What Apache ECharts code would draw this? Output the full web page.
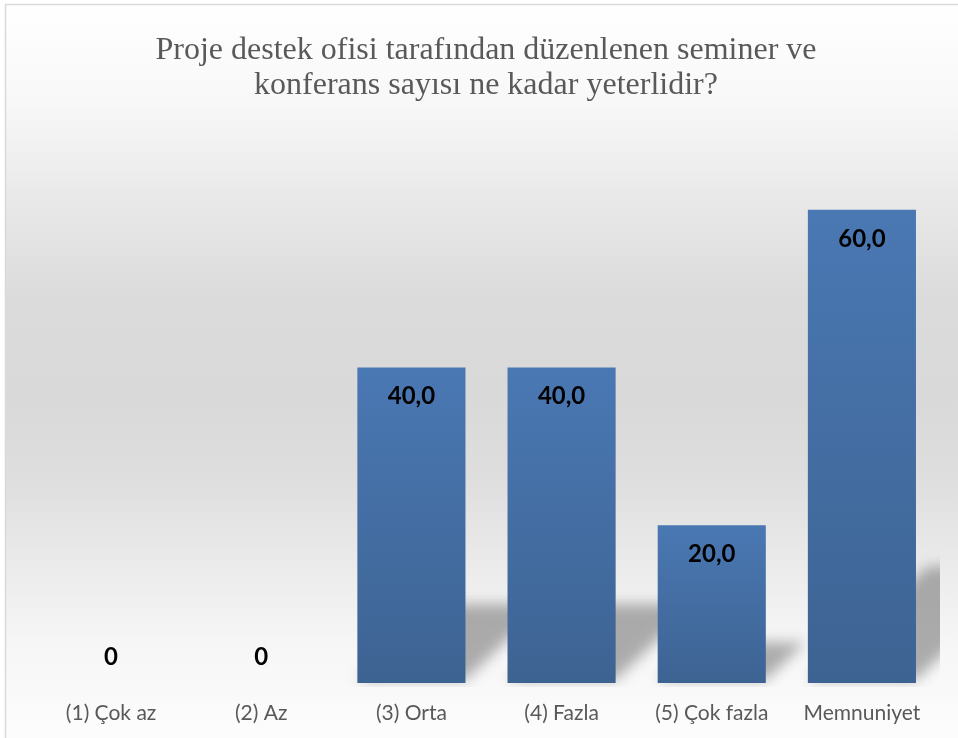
<!DOCTYPE html>
<html>
<head>
<meta charset="utf-8">
<script src="https://cdn.jsdelivr.net/npm/echarts@6/dist/echarts.min.js"></script>
<style>
  html, body { margin: 0; padding: 0; background: #fff; }
  #chart { width: 958px; height: 738px; }
</style>
</head>
<body>
<div id="chart"></div>
<script>
// data
var titleLines = ['Proje destek ofisi tarafından düzenlenen seminer ve', 'konferans sayısı ne kadar yeterlidir?']
var categories = ['(1) Çok az', '(2) Az', '(3) Orta', '(4) Fazla', '(5) Çok fazla', 'Memnuniyet']
var values = [0, 0, 40, 40, 20, 60]

var BAR_RATIO = 0.72
var OFF = 3000 // shape drawn off screen, only its blurred shadow shows

function fmt (v) {
  if (v === 0) return '0'
  return v.toFixed(1).replace('.', ',')
}

// zero bars get their label above the baseline
var barData = values.map(function (v) {
  if (v === 0) {
    return { value: v, label: { position: 'top', distance: 14 } }
  }
  return v
})

// floor shadow drawn behind each bar (skewed copy of the bar)
function renderShadow (params, api) {
  var v = api.value(1)
  if (!v) return null
  var base = api.coord([api.value(0), 0])
  var top = api.coord([api.value(0), v])
  var w = api.size([1, 0])[0] * BAR_RATIO
  var h = base[1] - top[1]
  var rise = h * 0.24
  var dx = rise * 1.05
  var xl = base[0] - w / 2
  var xr = base[0] + w / 2
  var y0 = base[1] - 3
  var cs = params.coordSys
  return {
    type: 'group',
    clipPath: { type: 'rect', shape: { x: cs.x - 20, y: cs.y, width: cs.width + 23, height: cs.height + 4 } },
    children: [{
      type: 'polygon',
      shape: {
        points: [[xl - OFF, y0], [xr - OFF, y0], [xr + dx - OFF, y0 - rise], [xl + dx - OFF, y0 - rise]]
      },
      style: {
        fill: '#000',
        shadowBlur: 14,
        shadowOffsetX: OFF,
        shadowColor: 'rgba(120,120,120,0.6)'
      }
    }]
  }
}

var myChart = echarts.init(document.getElementById('chart'))
myChart.setOption({
  animation: false,
  title: {
    text: titleLines.join('\n'),
    left: 481,
    top: 28,
    textAlign: 'center',
    textStyle: {
      fontFamily: '"Liberation Serif", "Times New Roman", serif',
      fontWeight: 'normal',
      fontSize: 32,
      lineHeight: 35,
      color: '#595959'
    }
  },
  graphic: [{
    type: 'rect',
    z: -10,
    shape: { x: 5.5, y: 4.5, width: 960, height: 740 },
    style: {
      stroke: '#d9d9d9',
      lineWidth: 1.5,
      fill: new echarts.graphic.LinearGradient(0, 0, 0, 1, [
        { offset: 0, color: '#ffffff' },
        { offset: 0.13, color: '#f8f8f8' },
        { offset: 0.27, color: '#e8e8e8' },
        { offset: 0.4, color: '#dbdbdb' },
        { offset: 0.53, color: '#d9d9d9' },
        { offset: 0.64, color: '#dedede' },
        { offset: 0.75, color: '#eaeaea' },
        { offset: 0.86, color: '#f6f6f6' },
        { offset: 1, color: '#fdfdfd' }
      ])
    }
  }],
  grid: {
    left: 36,
    right: 21,
    top: 131,
    bottom: 55
  },
  xAxis: {
    type: 'category',
    data: categories,
    axisLine: { show: false },
    axisTick: { show: false },
    axisLabel: {
      interval: 0,
      margin: 20,
      color: '#595959',
      fontFamily: 'Lato',
      fontSize: 21
    }
  },
  yAxis: {
    type: 'value',
    min: 0,
    max: 70,
    show: false,
    splitLine: { show: false }
  },
  series: [{
    type: 'custom',
    z: 1,
    renderItem: renderShadow,
    data: values.map(function (v, i) { return [i, v] }),
    silent: true
  }, {
    type: 'bar',
    z: 3,
    barWidth: (BAR_RATIO * 100) + '%',
    data: barData,
    itemStyle: {
      color: new echarts.graphic.LinearGradient(0, 0, 0, 1, [
        { offset: 0, color: '#4a78b3' },
        { offset: 1, color: '#3d6392' }
      ])
    },
    label: {
      show: true,
      position: 'insideTop',
      distance: 17,
      color: '#000000',
      fontFamily: 'Lato',
      fontWeight: 'bold',
      fontSize: 24,
      formatter: function (p) { return fmt(p.value) }
    }
  }]
})
</script>
</body>
</html>
